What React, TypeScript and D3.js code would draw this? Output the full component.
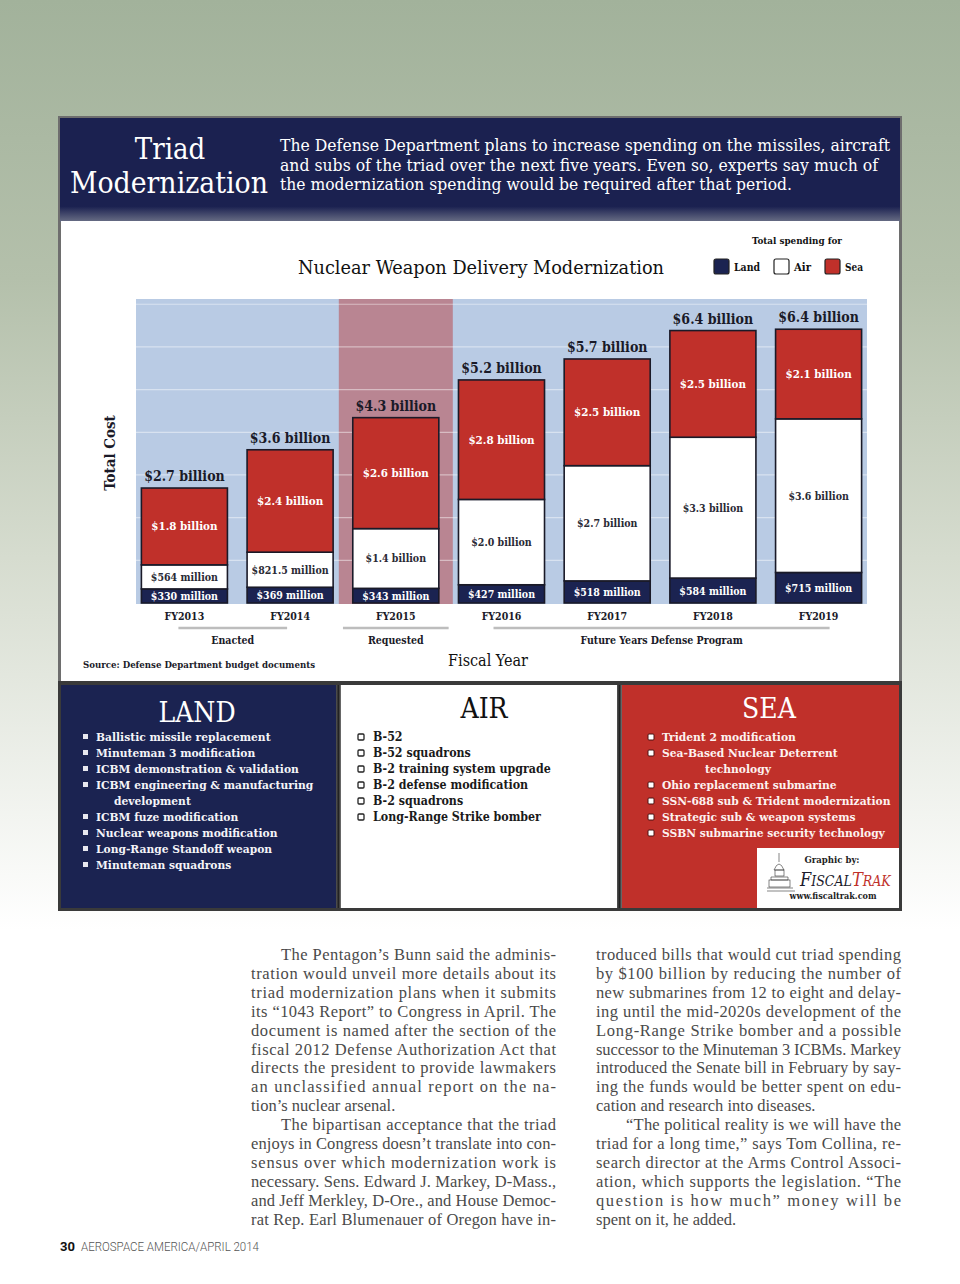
import React from 'react';
import * as d3 from 'd3';

const years = ['FY2013', 'FY2014', 'FY2015', 'FY2016', 'FY2017', 'FY2018', 'FY2019'];
const land = [0.33, 0.369, 0.343, 0.427, 0.518, 0.584, 0.715];
const air = [0.564, 0.8215, 1.4, 2.0, 2.7, 3.3, 3.6];
const sea = [1.8, 2.4, 2.6, 2.8, 2.5, 2.5, 2.1];
const totalLabels = ['$2.7 billion', '$3.6 billion', '$4.3 billion', '$5.2 billion', '$5.7 billion', '$6.4 billion', '$6.4 billion'];
const landLabels = ['$330 million', '$369 million', '$343 million', '$427 million', '$518 million', '$584 million', '$715 million'];
const airLabels = ['$564 million', '$821.5 million', '$1.4 billion', '$2.0 billion', '$2.7 billion', '$3.3 billion', '$3.6 billion'];
const seaLabels = ['$1.8 billion', '$2.4 billion', '$2.6 billion', '$2.8 billion', '$2.5 billion', '$2.5 billion', '$2.1 billion'];
const gridValues = [1, 2, 3, 4, 5, 6, 7];
const phases = [
  { label: 'Enacted', from: 'FY2013', to: 'FY2014' },
  { label: 'Requested', from: 'FY2015', to: 'FY2015' },
  { label: 'Future Years Defense Program', from: 'FY2016', to: 'FY2019' },
];

const landItems = [
  ['Ballistic missile replacement', 0],
  ['Minuteman 3 modification', 0],
  ['ICBM demonstration & validation', 0],
  ['ICBM engineering & manufacturing', 0],
  ['development', 1],
  ['ICBM fuze modification', 0],
  ['Nuclear weapons modification', 0],
  ['Long-Range Standoff weapon', 0],
  ['Minuteman squadrons', 0],
];
const airItems = ['B-52', 'B-52 squadrons', 'B-2 training system upgrade', 'B-2 defense modification', 'B-2 squadrons', 'Long-Range Strike bomber'];
const seaItems = [
  ['Trident 2 modification', 0],
  ['Sea-Based Nuclear Deterrent', 0],
  ['technology', 1],
  ['Ohio replacement submarine', 0],
  ['SSN-688 sub & Trident modernization', 0],
  ['Strategic sub & weapon systems', 0],
  ['SSBN submarine security technology', 0],
];

const headerLines = [
  'The Defense Department plans to increase spending on the missiles, aircraft',
  'and subs of the triad over the next five years. Even so, experts say much of',
  'the modernization spending would be required after that period.',
];

// [text, indent, justify]
const leftCol = [
  ['The Pentagon\u2019s Bunn said the adminis-', 1, 1],
  ['tration would unveil more details about its', 0, 1],
  ['triad modernization plans when it submits', 0, 1],
  ['its \u201c1043 Report\u201d to Congress in April. The', 0, 1],
  ['document is named after the section of the', 0, 1],
  ['fiscal 2012 Defense Authorization Act that', 0, 1],
  ['directs the president to provide lawmakers', 0, 1],
  ['an unclassified annual report on the na-', 0, 1],
  ['tion\u2019s nuclear arsenal.', 0, 0],
  ['The bipartisan acceptance that the triad', 1, 1],
  ['enjoys in Congress doesn\u2019t translate into con-', 0, 1],
  ['sensus over which modernization work is', 0, 1],
  ['necessary. Sens. Edward J. Markey, D-Mass.,', 0, 1],
  ['and Jeff Merkley, D-Ore., and House Democ-', 0, 1],
  ['rat Rep. Earl Blumenauer of Oregon have in-', 0, 1],
];
const rightCol = [
  ['troduced bills that would cut triad spending', 0, 1],
  ['by $100 billion by reducing the number of', 0, 1],
  ['new submarines from 12 to eight and delay-', 0, 1],
  ['ing until the mid-2020s development of the', 0, 1],
  ['Long-Range Strike bomber and a possible', 0, 1],
  ['successor to the Minuteman 3 ICBMs. Markey', 0, 1],
  ['introduced the Senate bill in February by say-', 0, 1],
  ['ing the funds would be better spent on edu-', 0, 1],
  ['cation and research into diseases.', 0, 0],
  ['\u201cThe political reality is we will have the', 1, 1],
  ['triad for a long time,\u201d says Tom Collina, re-', 0, 1],
  ['search director at the Arms Control Associ-', 0, 1],
  ['ation, which supports the legislation. \u201cThe', 0, 1],
  ['question is how much\u201d money will be', 0, 1],
  ['spent on it, he added.', 0, 0],
];

const NAVY = '#1b2351';
const RED = '#c0302a';
const SERIF = '"DejaVu Serif Condensed", "DejaVu Serif", serif';
const BODY = '"Liberation Serif", serif';

export default function App() {
  const x = d3.scaleBand<string>().domain(years).range([136, 867]).paddingInner(0.186).paddingOuter(0.051);
  const y = d3.scaleLinear().domain([0, 7.1]).range([603, 300]);
  const rows = years.map((yr, i) => ({ year: yr, land: land[i], air: air[i], sea: sea[i] }));
  const stack = d3.stack<any>().keys(['land', 'air', 'sea'])(rows);
  const fills: Record<string, string> = { land: NAVY, air: '#ffffff', sea: RED };
  const labelSets: Record<string, string[]> = { land: landLabels, air: airLabels, sea: seaLabels };
  const labelColors: Record<string, string> = { land: '#ffffff', air: '#2a2a35', sea: '#ffffff' };
  const labelSizes: Record<string, number> = { land: 10.5, air: 10.5, sea: 11.5 };
  const bw = x.bandwidth();
  const step = x.step();
  const cx = (yr: string) => (x(yr) as number) + bw / 2;

  const colW = 305;
  const lineH = 18.9;

  return (
    <div style={{ position: 'absolute', left: 0, top: 0 }}>
      <svg width={960} height={1284} style={{ display: 'block' }}>
        <defs>
          <linearGradient id="pagebg" x1="0" y1="0" x2="0" y2="1">
            <stop offset="0" stopColor="#a2b29b" />
            <stop offset="0.3" stopColor="#b4c0ab" />
            <stop offset="0.6" stopColor="#d6dccf" />
            <stop offset="1" stopColor="#ffffff" />
          </linearGradient>
          <linearGradient id="hdrShade" x1="0" y1="0" x2="0" y2="1">
            <stop offset="0" stopColor="#1b2150" />
            <stop offset="0.85" stopColor="#1b2150" />
            <stop offset="1" stopColor="#6a6f86" />
          </linearGradient>
          <linearGradient id="sepShade" x1="0" y1="0" x2="1" y2="0">
            <stop offset="0" stopColor="#555" />
            <stop offset="0.5" stopColor="#222" />
            <stop offset="1" stopColor="#777" />
          </linearGradient>
        </defs>
        <rect x={0} y={0} width={960} height={1284} fill="#ffffff" />
        <rect x={0} y={0} width={960} height={930} fill="url(#pagebg)" />

        {/* frame */}
        <rect x={58} y={116} width={844} height={795} fill="#6e6e6e" />
        <rect x={60} y={118} width={840} height={104} fill="url(#hdrShade)" />
        <rect x={61} y={221} width={838} height={461} fill="#ffffff" />

        {/* header */}
        <text x={170} y={159} textAnchor="middle" fill="#fff" fontFamily={SERIF} fontSize={29}>Triad</text>
        <text x={169} y={193} textAnchor="middle" fill="#fff" fontFamily={SERIF} fontSize={29} textLength={198} lengthAdjust="spacingAndGlyphs">Modernization</text>
        {headerLines.map((t, i) => (
          <text key={i} x={280} y={151 + i * 19.5} fill="#fff" fontFamily={SERIF} fontSize={16.5}
            textLength={[610, 598, 512][i]} lengthAdjust="spacingAndGlyphs">{t}</text>
        ))}

        {/* chart title & legend */}
        <text x={481} y={274} textAnchor="middle" fill="#111" fontFamily={SERIF} fontSize={19} textLength={366} lengthAdjust="spacingAndGlyphs">Nuclear Weapon Delivery Modernization</text>
        <text x={797} y={244} textAnchor="middle" fill="#111" fontFamily={SERIF} fontSize={10} fontWeight="bold" textLength={90} lengthAdjust="spacingAndGlyphs">Total spending for</text>
        {[
          { c: NAVY, l: 'Land', x: 714, w: 26 },
          { c: '#fff', l: 'Air', x: 774, w: 17 },
          { c: RED, l: 'Sea', x: 825, w: 18 },
        ].map((d) => (
          <g key={d.l}>
            <rect x={d.x} y={259} width={15} height={15} rx={2} fill={d.c} stroke="#222" strokeWidth={1.2} />
            <text x={d.x + 20} y={271} fill="#111" fontFamily={SERIF} fontSize={10.5} fontWeight="bold" textLength={d.w} lengthAdjust="spacingAndGlyphs">{d.l}</text>
          </g>
        ))}

        {/* plot background */}
        <rect x={136} y={299} width={731} height={305} fill="#b9cbe4" />
        <rect x={cx('FY2015') - 57} y={299} width={114} height={305} fill="#b98592" />
        {gridValues.map((v) => (
          <line key={v} x1={136} x2={867} y1={y(v)} y2={y(v)} stroke="#ffffff" strokeOpacity={0.45} strokeWidth={1.2} />
        ))}

        {/* bars */}
        {stack.map((layer) => (
          <g key={layer.key}>
            {layer.map((d: any, i: number) => (
              <rect key={i} x={x(years[i])} y={y(d[1])} width={bw} height={y(d[0]) - y(d[1])}
                fill={fills[layer.key]} stroke="#1a1a28" strokeWidth={1.6} />
            ))}
          </g>
        ))}
        {stack.map((layer) => (
          <g key={'l' + layer.key}>
            {layer.map((d: any, i: number) => (
              <text key={i} x={cx(years[i])} y={(y(d[0]) + y(d[1])) / 2 + 4} textAnchor="middle"
                fill={labelColors[layer.key]} fontFamily={SERIF} fontWeight="bold" fontSize={labelSizes[layer.key]}>
                {labelSets[layer.key][i]}
              </text>
            ))}
          </g>
        ))}
        {rows.map((r, i) => (
          <text key={i} x={cx(r.year)} y={y(r.land + r.air + r.sea) - 7} textAnchor="middle" fill="#1a1a28"
            fontFamily={SERIF} fontWeight="bold" fontSize={14}>{totalLabels[i]}</text>
        ))}

        {/* y title */}
        <text transform="translate(115,453) rotate(-90)" textAnchor="middle" fill="#1a1a28" fontFamily={SERIF} fontWeight="bold" fontSize={15}>Total Cost</text>

        {/* x axis */}
        {years.map((yr) => (
          <text key={yr} x={cx(yr)} y={620} textAnchor="middle" fill="#1a1a28" fontFamily={SERIF} fontWeight="bold" fontSize={10.5}>{yr}</text>
        ))}
        {phases.map((p) => {
          const a = cx(p.from) - step / 2;
          const b = cx(p.to) + step / 2;
          const x1 = p.label === 'Enacted' ? cx(p.from) - 6 : p.label === 'Requested' ? a : cx(p.from) - 8;
          const x2 = p.label === 'Enacted' ? cx(p.to) - 3 : p.label === 'Requested' ? b : cx(p.to) + 11;
          return (
            <g key={p.label}>
              <line x1={x1} x2={x2} y1={628} y2={628} stroke="#bdbdbd" strokeWidth={2.5} />
              <text x={(x1 + x2) / 2} y={644} textAnchor="middle" fill="#1a1a28" fontFamily={SERIF} fontWeight="bold" fontSize={10.5}>{p.label}</text>
            </g>
          );
        })}
        <text x={488} y={666} textAnchor="middle" fill="#111" fontFamily={SERIF} fontSize={16}>Fiscal Year</text>
        <text x={83} y={668} fill="#1a1a28" fontFamily={SERIF} fontWeight="bold" fontSize={10} textLength={232} lengthAdjust="spacingAndGlyphs">Source: Defense Department budget documents</text>

        {/* bottom panels */}
        <rect x={58} y={681} width={844} height={230} fill="#3a3a3a" />
        <rect x={61} y={685} width={275} height={223} fill={NAVY} />
        <rect x={341} y={685} width={276} height={223} fill="#ffffff" />
        <rect x={622} y={685} width={277} height={223} fill={RED} />
        <rect x={336} y={685} width={5} height={223} fill="url(#sepShade)" />
        <rect x={617} y={685} width={5} height={223} fill="url(#sepShade)" />

        <text x={197} y={722} textAnchor="middle" fill="#fff" fontFamily={SERIF} fontSize={28}>LAND</text>
        <text x={484} y={718} textAnchor="middle" fill="#111" fontFamily={SERIF} fontSize={28}>AIR</text>
        <text x={769} y={718} textAnchor="middle" fill="#fff" fontFamily={SERIF} fontSize={28}>SEA</text>

        {landItems.map(([t, ind], i) => (
          <g key={i}>
            {!ind && <rect x={83} y={734 + i * 16} width={5} height={5} fill="#e8e8f0" />}
            <text x={ind ? 114 : 96} y={741 + i * 16} fill="#f4f4f8" fontFamily={SERIF} fontWeight="bold" fontSize={11.9}>{t as string}</text>
          </g>
        ))}
        {airItems.map((t, i) => (
          <g key={i}>
            <rect x={358} y={734 + i * 16} width={6} height={6} rx={1} fill="none" stroke="#222" strokeWidth={1.3} />
            <text x={373} y={741 + i * 16} fill="#1a1a1a" fontFamily={SERIF} fontWeight="bold" fontSize={12.3}>{t}</text>
          </g>
        ))}
        {seaItems.map(([t, ind], i) => (
          <g key={i}>
            {!ind && <rect x={648} y={734 + i * 16} width={6} height={6} rx={1} fill="#fff" stroke="#4a1010" strokeWidth={1} />}
            <text x={ind ? 705 : 662} y={741 + i * 16} fill="#fdf2f0" fontFamily={SERIF} fontWeight="bold" fontSize={11.9}>{t as string}</text>
          </g>
        ))}

        {/* logo */}
        <rect x={757} y={848} width={142} height={60} fill="#ffffff" />
        <g fill="#444" stroke="#333" strokeWidth={0.6}>
          <line x1={779} x2={779} y1={853} y2={862} />
          <path d="M774,870 Q779,858 784,870 Z" fill="none" />
          <rect x={775} y={870} width={9} height={6} fill="none" />
          <path d="M771,877 L788,877 L788,880 L771,880 Z" fill="none" />
          <rect x={769} y={880} width={21} height={7} fill="none" />
          <line x1={767} x2={793} y1={888} y2={888} />
          <line x1={767} x2={795} y1={891} y2={891} />
        </g>
        <text x={832} y={863} textAnchor="middle" fill="#222" fontFamily={SERIF} fontWeight="bold" fontSize={9.5}>Graphic by:</text>
        <text x={800} y={886} fill="#1a1a2a" fontFamily={SERIF} fontStyle="italic" fontSize={18}>
          <tspan>F</tspan><tspan fontSize={14}>ISCAL</tspan><tspan fill={RED}>T</tspan><tspan fill={RED} fontSize={14}>RAK</tspan>
        </text>
        <text x={833} y={899} textAnchor="middle" fill="#222" fontFamily={SERIF} fontWeight="bold" fontSize={9}>www.fiscaltrak.com</text>

        {/* body text */}
        {[{ lines: leftCol, x0: 251 }, { lines: rightCol, x0: 596 }].map((col, ci) => (
          <g key={ci}>
            {col.lines.map(([t, ind, just], i) => {
              const xs = col.x0 + (ind ? 30 : 0);
              const w = colW - (ind ? 30 : 0);
              return (
                <text key={i} x={xs} y={960 + i * lineH} fill="#4a4a4a" fontFamily={BODY} fontSize={16.5}
                  {...(just ? { textLength: w, lengthAdjust: 'spacing' } : {})}>{t as string}</text>
              );
            })}
          </g>
        ))}

        {/* footer */}
        <text x={60} y={1251} fill="#111" fontFamily="Roboto, sans-serif" fontWeight="bold" fontSize={13}>30</text>
        <text x={81} y={1251} fill="#555" fontFamily="Roboto, sans-serif" fontWeight="300" fontSize={12.5} textLength={178} lengthAdjust="spacingAndGlyphs">AEROSPACE AMERICA/APRIL 2014</text>
      </svg>
    </div>
  );
}
